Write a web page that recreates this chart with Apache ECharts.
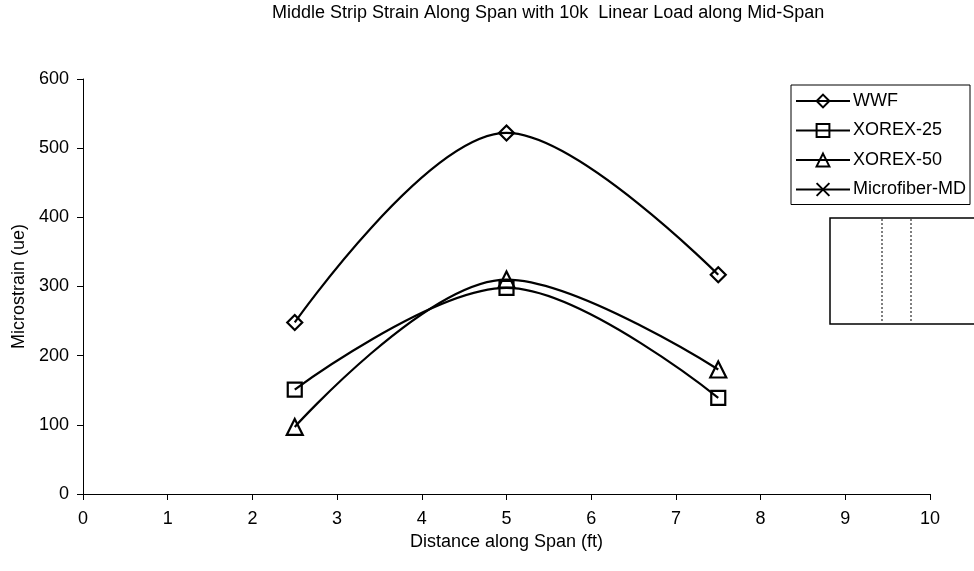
<!DOCTYPE html>
<html><head><meta charset="utf-8">
<script src="https://cdn.jsdelivr.net/npm/echarts@6/dist/echarts.min.js"></script>
<style>html,body{margin:0;padding:0;background:#fff}#c{width:974px;height:571px}</style>
</head><body><div id="c"></div>
<script>
const xValues = [2.5, 5, 7.5];
const wwf = [248, 522, 317];
const xorex25 = [151, 298, 139];
const xorex50 = [97, 310, 180];
const microfiber = [];
const seriesNames = ['WWF', 'XOREX-25', 'XOREX-50', 'Microfiber-MD'];

const font = 'Arial, "Liberation Sans", sans-serif';
function pts(v) { return v.map((y, i) => [xValues[i], y]); }
function mk(name, data, symbol, size) {
  return {
    name, type: 'line', data: pts(data), smooth: 0.35,
    symbol, symbolSize: size, showSymbol: true,
    lineStyle: { color: '#000', width: 2.2 },
    itemStyle: { color: 'rgba(0,0,0,0)', borderColor: '#000', borderWidth: 2.2 },
    emphasis: { disabled: true }
  };
}
const chart = echarts.init(document.getElementById('c'), null, { renderer: 'canvas' });
chart.setOption({
  animation: false,
  backgroundColor: '#fff',
  textStyle: { fontFamily: font },
  title: {
    text: 'Middle Strip Strain Along Span with 10k  Linear Load along Mid-Span',
    left: 272, top: 4, padding: 0,
    textStyle: { fontSize: 18, fontWeight: 'normal', color: '#000', fontFamily: font }
  },
  grid: { left: 83, right: 44, top: 79, bottom: 77 },
  legend: {
    left: 791, top: 85, orient: 'vertical',
    data: seriesNames,
    itemWidth: 54, itemHeight: 16, itemGap: 11.5,
    padding: [7, 4, 6, 4],
    borderColor: '#000', borderWidth: 1,
    textStyle: { fontSize: 18, color: '#000', fontFamily: font, padding: [0, 0, 0, -2] }
  },
  xAxis: {
    type: 'value', min: 0, max: 10, interval: 1,
    name: 'Distance along Span (ft)', nameLocation: 'middle', nameGap: 39,
    nameTextStyle: { fontSize: 18, color: '#000', fontFamily: font },
    axisLine: { lineStyle: { color: '#000', width: 1 } },
    axisTick: { length: 6, lineStyle: { color: '#000' } },
    axisLabel: { fontSize: 18, color: '#000', margin: 16 },
    splitLine: { show: false }
  },
  yAxis: {
    type: 'value', min: 0, max: 600, interval: 100,
    name: 'Microstrain (ue)', nameLocation: 'middle', nameGap: 54, nameRotate: 90,
    nameTextStyle: { fontSize: 18, color: '#000', fontFamily: font },
    axisLine: { show: true, lineStyle: { color: '#000', width: 1 } },
    axisTick: { show: true, length: 6, lineStyle: { color: '#000' } },
    axisLabel: { fontSize: 18, color: '#000', margin: 14 },
    splitLine: { show: false }
  },
  graphic: [
    { type: 'rect', shape: { x: 830, y: 218, width: 160, height: 106 },
      style: { fill: '#fff', stroke: '#000', lineWidth: 1.5 } },
    { type: 'line', shape: { x1: 882, y1: 219, x2: 882, y2: 323 },
      style: { stroke: '#000', lineWidth: 1, lineDash: [2, 2] } },
    { type: 'line', shape: { x1: 911, y1: 219, x2: 911, y2: 323 },
      style: { stroke: '#000', lineWidth: 1, lineDash: [2, 2] } }
  ],
  series: [
    mk('WWF', wwf, 'diamond', [15, 15]),
    mk('XOREX-25', xorex25, 'rect', 14),
    mk('XOREX-50', xorex50, 'triangle', 16),
    mk('Microfiber-MD', microfiber, 'path://M0,0L10,10M10,0L0,10', 13)
  ]
});
</script></body></html>
